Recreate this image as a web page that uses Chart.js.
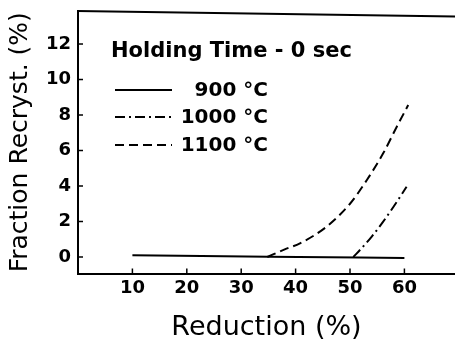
<!DOCTYPE html>
<html>
<head>
<meta charset="utf-8">
<script src="https://cdn.jsdelivr.net/npm/chart.js@4/dist/chart.umd.min.js"></script>
<style>
  html, body { margin: 0; padding: 0; background: #ffffff; }
  #wrap { width: 455px; height: 341px; }
</style>
</head>
<body>
<div id="wrap"><canvas id="c" width="455" height="341"></canvas></div>
<script>
// ---- data ----
const legendTitle = "Holding Time - 0 sec";
const seriesLabels = ["900 °C", "1000 °C", "1100 °C"];

const reduction900 = [10, 35, 60];
const fraction900 = [0.1, 0.02, -0.05];

const reduction1000 = [50.6, 52, 54, 56, 58, 60.4];
const fraction1000 = [0, 0.45, 1.15, 1.95, 2.83, 3.96];

const reduction1100 = [34.8, 38, 40.8, 45.7, 50, 53.1, 56.1, 58.6, 60.7];
const fraction1100 = [0, 0.43, 0.77, 1.71, 3.0, 4.34, 5.84, 7.34, 8.56];

const xTicks = [10, 20, 30, 40, 50, 60];
const yTicks = [0, 2, 4, 6, 8, 10, 12];

const xTitle = "Reduction (%)";
const yTitle = "Fraction Recryst. (%)";

// ---- build ----
function pts(xs, ys) { return xs.map((x, i) => ({ x: x, y: ys[i] })); }

const FONT = "'DejaVu Sans', 'Liberation Sans', sans-serif";

const datasets = [
  { label: seriesLabels[0], data: pts(reduction900, fraction900), borderDash: [] },
  { label: seriesLabels[1], data: pts(reduction1000, fraction1000), borderDash: [10, 4, 2, 4] },
  { label: seriesLabels[2], data: pts(reduction1100, fraction1100), borderDash: [9, 5] }
].map(d => Object.assign(d, {
  borderColor: '#000',
  borderWidth: 2,
  pointRadius: 0,
  fill: false,
  tension: 0.35,
  cubicInterpolationMode: 'monotone'
}));

const decorPlugin = {
  id: 'decor',
  afterDraw(chart) {
    const ctx = chart.ctx;
    const a = chart.chartArea;
    const xs = chart.scales.x, ys = chart.scales.y;
    ctx.save();
    ctx.strokeStyle = '#000';
    ctx.lineWidth = 2;
    ctx.setLineDash([]);
    // top frame line (slightly skewed as in the scan)
    ctx.beginPath();
    ctx.moveTo(a.left - 1, a.top);
    ctx.lineTo(a.right, a.top + 5.5);
    ctx.stroke();
    // inward tick marks
    ctx.lineWidth = 1.5;
    xTicks.forEach(v => {
      const px = xs.getPixelForValue(v);
      ctx.beginPath();
      ctx.moveTo(px, a.bottom);
      ctx.lineTo(px, a.bottom - 5);
      ctx.stroke();
    });
    yTicks.forEach(v => {
      const py = ys.getPixelForValue(v);
      ctx.beginPath();
      ctx.moveTo(a.left, py);
      ctx.lineTo(a.left + 5, py);
      ctx.stroke();
    });
    // legend block
    ctx.fillStyle = '#000';
    ctx.textBaseline = 'middle';
    ctx.textAlign = 'left';
    ctx.font = "bold 21px " + FONT;
    ctx.fillText(legendTitle, 111, 52);
    const rows = [90, 117, 145];
    chart.data.datasets.forEach((d, i) => {
      const y = rows[i];
      ctx.lineWidth = 2;
      ctx.setLineDash(d.borderDash || []);
      ctx.beginPath();
      ctx.moveTo(115, y);
      ctx.lineTo(172, y);
      ctx.stroke();
      ctx.setLineDash([]);
      ctx.textAlign = 'right';
      ctx.font = "bold 20px " + FONT;
      ctx.fillText(d.label, 268, y + 1);
    });
    ctx.restore();
  }
};

new Chart(document.getElementById('c'), {
  type: 'line',
  data: { datasets: datasets },
  options: {
    responsive: false,
    animation: false,
    devicePixelRatio: 1,
    layout: { padding: { top: 11, right: 0, left: 0, bottom: 0 } },
    plugins: { legend: { display: false }, tooltip: { enabled: false } },
    scales: {
      x: {
        type: 'linear',
        min: 0,
        max: 69.3,
        afterBuildTicks(s) { s.ticks = xTicks.map(v => ({ value: v })); },
        afterFit(s) { s.height = 67.5; s.paddingLeft = 0; s.paddingRight = 0; },
        grid: { display: false, drawTicks: false },
        border: { display: true, color: '#000', width: 2 },
        ticks: {
          color: '#000',
          padding: 4,
          maxRotation: 0,
          font: { family: FONT, size: 18, weight: 'bold' }
        },
        title: {
          display: true,
          text: xTitle,
          color: '#000',
          font: { family: FONT, size: 27, lineHeight: 1 },
          padding: { top: 0, bottom: 0 }
        }
      },
      y: {
        type: 'linear',
        min: -0.93,
        max: 13.86,
        afterBuildTicks(s) { s.ticks = yTicks.map(v => ({ value: v })); },
        afterFit(s) { s.width = 78; s.paddingTop = 0; s.paddingBottom = 0; },
        grid: { display: false, drawTicks: false },
        border: { display: true, color: '#000', width: 2 },
        ticks: {
          color: '#000',
          padding: 7,
          font: { family: FONT, size: 18, weight: 'bold' }
        },
        title: {
          display: true,
          text: yTitle,
          color: '#000',
          font: { family: FONT, size: 25, lineHeight: 1.2 },
          padding: { top: 5, bottom: 0 }
        }
      }
    }
  },
  plugins: [decorPlugin]
});
</script>
</body>
</html>
